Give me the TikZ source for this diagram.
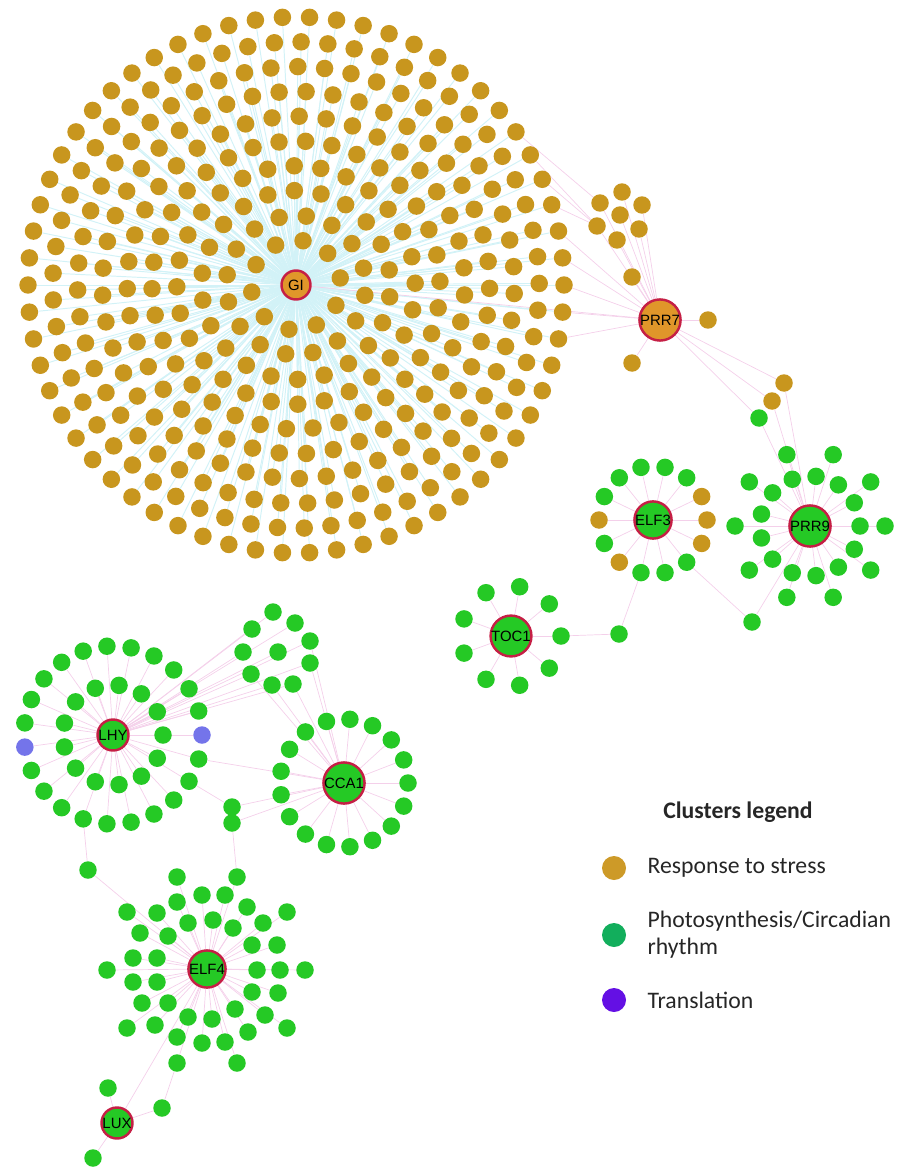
\documentclass[tikz,border=0pt]{standalone}
\usepackage{fontspec}
\setmainfont{Liberation Sans}
\newfontfamily\legendfont{Carlito}
\definecolor{StressNode}{HTML}{C8961E}
\definecolor{PhotoNode}{HTML}{25C925}
\definecolor{TransNode}{HTML}{7474EA}
\definecolor{HubOrange}{HTML}{E0962A}
\definecolor{HubRim}{HTML}{C51F45}
\definecolor{GILink}{HTML}{D2F2F7}
\definecolor{PinkLink}{HTML}{F4D0EA}
\definecolor{StressKey}{HTML}{CD9A28}
\definecolor{PhotoKey}{HTML}{12AE5C}
\definecolor{TransKey}{HTML}{6410E4}
\usetikzlibrary{positioning, backgrounds}

\tikzset{
  gene/.style = {circle, inner sep=0pt, minimum size=0.35cm},
  stress/.style = {gene, fill=StressNode},
  photo/.style = {gene, fill=PhotoNode},
  transl/.style = {gene, fill=TransNode},
  hub/.style = {circle, inner sep=0pt, minimum size=0.62cm, draw=HubRim,
    line width=1.4pt, font=\fontsize{8.5}{9}\selectfont},
  gilink/.style = {draw=GILink, line width=0.55pt},
  link/.style = {draw=PinkLink, line width=0.4pt},
  keydot/.style = {circle, inner sep=0pt, minimum size=0.48cm},
  keytext/.style = {anchor=west, align=left, text=black!85,
    font=\legendfont\fontsize{13.5}{15.5}\selectfont},
}

\begin{document}
\begin{tikzpicture}[x=0.02cm, y=-0.02cm]
\useasboundingbox (0,0) rectangle (916,1169);

% GI cluster
\node[hub, fill=HubOrange, minimum size=0.58cm] (GI) at (296,285) {GI};
\foreach \k in {1,...,10}{
  \pgfmathsetmacro\ringr{20+24.8*\k}
  \pgfmathtruncatemacro\ringn{round(6.2832*\ringr/27)}
  \foreach \i in {1,...,\ringn}{
    \pgfmathsetmacro\ang{(\k-10)*13+(\i-1)/\ringn*360}
    \node[stress] (gi-\k-\i) at ({296+\ringr*cos(\ang)},{285+\ringr*sin(\ang)}) {};
  }
}

% PRR7 cluster
\node[hub, fill=HubOrange, minimum size=0.66cm] (PRR7) at (660,320) {PRR7};
\foreach \n/\x/\y in {1/622/192, 2/600/203, 3/642/205, 4/620/215, 5/597/226,
    6/639/229, 7/617/240, 8/632/277, 9/708/320, 10/632/363}
  \node[stress] (p\n) at (\x,\y) {};
\node[stress] (q1) at (784,383) {};
\node[stress] (q2) at (772,401) {};
\node[photo] (q3) at (759,418) {};

% PRR9 cluster
\node[hub, fill=PhotoNode] (PRR9) at (810,526) {PRR9};
\foreach \i in {0,...,12}
  \node[photo] (prr9-in-\i) at ({810+50*cos(\i*360/13)},{526+50*sin(\i*360/13)}) {};
\foreach \i in {0,...,9}
  \node[photo] (prr9-out-\i) at ({810+75*cos(\i*36)},{526+75*sin(\i*36)}) {};
\node[photo] (d) at (752,622) {};

% ELF3 cluster
\node[hub, fill=PhotoNode] (ELF3) at (653,520) {ELF3};
\foreach \i/\kind in {0/stress, 1/stress, 2/photo, 3/photo, 4/photo, 5/stress, 6/photo,
    7/stress, 8/photo, 9/photo, 10/photo, 11/photo, 12/photo, 13/stress}
  \node[\kind] (elf3-\i) at ({653+54*cos(\i*360/14)},{520+54*sin(\i*360/14)}) {};

% TOC1 cluster
\node[hub, fill=PhotoNode] (TOC1) at (511,636) {TOC1};
\foreach \i in {0,...,8}
  \node[photo] (toc1-\i) at ({511+50*cos(\i*40)},{636+50*sin(\i*40)}) {};
\node[photo] (c2) at (619,634) {};

% LHY cluster
\node[hub, fill=PhotoNode] (LHY) at (113,735) {LHY};
\foreach \i in {0,...,12}
  \node[photo] (lhy-in-\i) at ({113+50*cos(\i*360/13)},{735+50*sin(\i*360/13)}) {};
\foreach \i in {0,...,22}{
  \def\kind{photo}
  \ifnum\i=0 \def\kind{transl}\fi
  \ifnum\i=11 \def\kind{transl}\fi
  \node[\kind] (lhy-out-\i) at ({113+89*cos(\i*360/23)},{735+89*sin(\i*360/23)}) {};
}
\foreach \n/\x/\y in {1/273/612, 2/295/623, 3/252/629, 4/310/641, 5/243/652,
    6/278/652, 7/310/663, 8/251/674, 9/293/684, 10/272/685}
  \node[photo] (t\n) at (\x,\y) {};
\node[photo] (m1) at (232,807) {};
\node[photo] (m2) at (232,823) {};
\node[photo] (a) at (88,870) {};

% CCA1 cluster
\node[hub, fill=PhotoNode] (CCA1) at (344,783) {CCA1};
\foreach \i in {0,...,16}
  \node[photo] (cca1-\i) at ({344+64*cos(\i*360/17)},{783+64*sin(\i*360/17)}) {};

% ELF4 cluster
\node[hub, fill=PhotoNode] (ELF4) at (207,969) {ELF4};
\foreach \n/\x/\y in {1/177/877, 2/237/877, 3/202/895, 4/225/895, 5/177/902,
    6/127/912, 7/157/913, 8/188/923, 9/213/920, 10/247/907, 11/287/912,
    12/233/928, 13/263/923, 14/140/933, 15/168/936, 16/252/945, 17/277/945,
    18/133/958, 19/157/958, 20/107/970, 21/257/970, 22/280/970, 23/305/970,
    24/133/982, 25/157/982, 26/252/992, 27/278/993, 28/142/1003, 29/168/1003,
    30/235/1009, 31/188/1017, 32/212/1019, 33/265/1015, 34/127/1028,
    35/155/1025, 36/248/1032, 37/287/1028, 38/177/1037, 39/202/1043,
    40/225/1042, 41/177/1063, 42/237/1063}
  \node[photo] (e\n) at (\x,\y) {};

% LUX
\node[hub, fill=PhotoNode] (LUX) at (117,1123) {LUX};
\node[photo] (b1) at (108,1088) {};
\node[photo] (b2) at (162,1108) {};
\node[photo] (b3) at (93,1158) {};

% edges
\begin{scope}[on background layer]
  \foreach \k in {1,...,10}{
    \pgfmathsetmacro\ringr{20+24.8*\k}
    \pgfmathtruncatemacro\ringn{round(6.2832*\ringr/27)}
    \foreach \i in {1,...,\ringn}
      \draw[gilink] (GI) -- (gi-\k-\i);
  }
  \draw[link] (GI) -- (PRR7);
  \foreach \j in {61,62,1,2,3} \draw[link] (PRR7) -- (gi-10-\j);
  \foreach \j in {58,59,60} \draw[link] (p5) -- (gi-10-\j);
  \draw[link] (p2) -- (gi-10-57);
  \foreach \j in {1,...,10} \draw[link] (PRR7) -- (p\j);
  \foreach \j in {1,2,3} \draw[link] (PRR7) -- (q\j);
  \foreach \j in {1,2,3} \draw[link] (q\j) -- (PRR9);
  \foreach \i in {0,...,12} \draw[link] (PRR9) -- (prr9-in-\i);
  \foreach \i in {0,...,9} \draw[link] (PRR9) -- (prr9-out-\i);
  \draw[link] (PRR9) -- (d);
  \draw[link] (elf3-2) -- (d);
  \foreach \i in {0,...,13} \draw[link] (ELF3) -- (elf3-\i);
  \draw[link] (elf3-4) -- (c2);
  \draw[link] (toc1-0) -- (c2);
  \foreach \i in {0,...,8} \draw[link] (TOC1) -- (toc1-\i);
  \foreach \i in {0,...,12} \draw[link] (LHY) -- (lhy-in-\i);
  \foreach \i in {0,...,22} \draw[link] (LHY) -- (lhy-out-\i);
  \foreach \j in {1,...,10} \draw[link] (LHY) -- (t\j);
  \foreach \j in {4,7,8,9,10} \draw[link] (CCA1) -- (t\j);
  \foreach \i in {0,...,16} \draw[link] (CCA1) -- (cca1-\i);
  \draw[link] (lhy-out-1) -- (CCA1);
  \draw[link] (lhy-out-2) -- (m1);
  \draw[link] (m1) -- (CCA1);
  \draw[link] (m2) -- (CCA1);
  \draw[link] (m2) -- (e2);
  \draw[link] (lhy-out-7) -- (a);
  \draw[link] (a) -- (ELF4);
  \foreach \j in {1,...,42} \draw[link] (ELF4) -- (e\j);
  \draw[link] (ELF4) -- (LUX);
  \foreach \j in {1,2,3} \draw[link] (LUX) -- (b\j);
  \draw[link] (b2) -- (e41);
\end{scope}

% legend
\node[font=\legendfont\bfseries\fontsize{13.5}{15.5}\selectfont, text=black!85]
  (keytitle) at (738,812) {Clusters legend};
\node[keydot, fill=StressKey] (key1) at (614,868) {};
\node[keydot, fill=PhotoKey] (key2) at (614,935) {};
\node[keydot, fill=TransKey] (key3) at (614,1000) {};
\node[keytext, right=0.3cm of key1] (txt1) {Response to stress};
\node[keytext, right=0.3cm of key2] (txt2) {Photosynthesis/Circadian\\rhythm};
\node[keytext, right=0.3cm of key3] (txt3) {Translation};

\end{tikzpicture}
\end{document}
